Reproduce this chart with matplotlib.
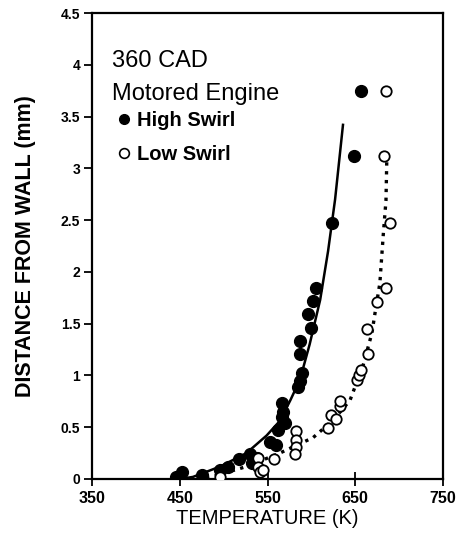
import numpy as np
import matplotlib
matplotlib.use("Agg")
import matplotlib.pyplot as plt
from matplotlib.lines import Line2D

plt.rcParams['font.family'] = ['Liberation Sans', 'DejaVu Sans']

# high swirl (filled) measurements: temperature (K), distance from wall (mm)
high_T = [446, 452, 475, 496, 505, 517, 530, 532, 538, 553, 560, 562, 566,
          566, 568, 570, 585, 587, 589, 587, 587, 600, 596, 602, 605, 624,
          648, 657]
high_D = [0.02, 0.07, 0.04, 0.09, 0.12, 0.19, 0.24, 0.15, 0.20, 0.36, 0.33,
          0.47, 0.60, 0.73, 0.65, 0.54, 0.89, 0.95, 1.02, 1.21, 1.33, 1.46,
          1.59, 1.72, 1.84, 2.47, 3.12, 3.75]

# low swirl (open) measurements
low_T = [496, 539, 539, 541, 545, 557, 583, 583, 583, 581, 619, 622, 628,
         633, 633, 652, 654, 657, 665, 663, 675, 685, 690, 683, 685]
low_D = [0.02, 0.20, 0.12, 0.07, 0.09, 0.19, 0.46, 0.38, 0.31, 0.24, 0.49,
         0.62, 0.58, 0.70, 0.75, 0.96, 1.00, 1.05, 1.21, 1.45, 1.71, 1.84,
         2.47, 3.12, 3.75]

# fitted curves
high_fit_T = [450, 465, 496, 526, 549, 564, 576, 587, 598, 610, 619, 627, 636]
high_fit_D = [0.0, 0.02, 0.12, 0.25, 0.42, 0.56, 0.76, 0.96, 1.30, 1.73,
              2.20, 2.70, 3.42]
low_fit_T = [470, 488, 526, 564, 602, 625, 644, 659, 669, 673, 678, 682,
             685, 686]
low_fit_D = [0.0, 0.025, 0.12, 0.25, 0.40, 0.57, 0.76, 1.10, 1.41, 1.63,
             1.89, 2.37, 2.69, 3.12]

x_ticks = [350, 450, 550, 650, 750]
y_ticks = [0, 0.5, 1, 1.5, 2, 2.5, 3, 3.5, 4, 4.5]
y_labels = ['0', '0.5', '1', '1.5', '2', '2.5', '3', '3.5', '4', '4.5']

fig = plt.figure(figsize=(4.58, 5.35), dpi=100)
ax = fig.add_axes([0.2009, 0.1047, 0.7664, 0.871])

ax.plot(high_fit_T, high_fit_D, '-', color='k', lw=1.8, zorder=2)
ax.plot(low_fit_T, low_fit_D, ':', color='k', lw=2.4, zorder=2)
ax.plot(high_T, high_D, 'o', color='k', ms=8.5, zorder=3)
ax.plot(low_T, low_D, 'o', mfc='white', mec='k', mew=1.3, ms=7.5, zorder=3)

ax.set_xlim(350, 750)
ax.set_ylim(0, 4.5)
ax.set_xticks(x_ticks)
ax.set_yticks(y_ticks)
ax.set_yticklabels(y_labels)
ax.tick_params(axis='x', direction='inout', length=10, width=1.3, pad=4,
               labelsize=11.5)
ax.tick_params(axis='y', direction='out', length=6, width=1.3, pad=2.5,
               labelsize=10)
for lab in ax.get_xticklabels() + ax.get_yticklabels():
    lab.set_fontweight('bold')
for sp in ax.spines.values():
    sp.set_linewidth(1.6)

ax.set_xlabel('TEMPERATURE (K)', fontsize=14.5, labelpad=2)
ax.set_ylabel('DISTANCE FROM WALL (mm)', fontsize=15.5, fontweight='bold',
              labelpad=18)

ax.text(0.056, 0.885, '360 CAD', transform=ax.transAxes, fontsize=17,
        va='baseline', ha='left')
ax.text(0.056, 0.813, 'Motored Engine', transform=ax.transAxes, fontsize=17,
        va='baseline', ha='left')

handles = [Line2D([], [], ls='', marker='o', color='k', ms=7),
           Line2D([], [], ls='', marker='o', mfc='white', mec='k', mew=1.2,
                  ms=7)]
leg = ax.legend(handles, ['High Swirl', 'Low Swirl'], loc='upper left',
                bbox_to_anchor=(0.068, 0.789), frameon=False, borderpad=0,
                borderaxespad=0, handlelength=0.8, handletextpad=0.25,
                labelspacing=0.75, prop={'size': 14.5, 'weight': 'bold'})

fig.savefig('out.png', dpi=100)
